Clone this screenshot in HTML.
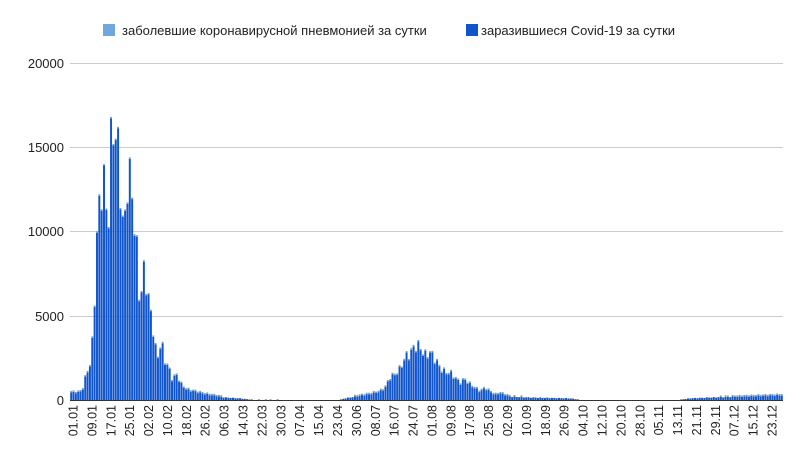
<!DOCTYPE html>
<html><head><meta charset="utf-8"><style>
html,body{margin:0;padding:0;background:#fff;}
svg{display:block;font-family:"Liberation Sans",Arial,sans-serif;}
</style></head><body>
<svg id="c" width="807" height="466" xmlns="http://www.w3.org/2000/svg">
<rect width="807" height="466" fill="#fff"/>
<g stroke="#cccccc" stroke-width="1">
<line x1="70" y1="63.5" x2="783" y2="63.5"/>
<line x1="70" y1="147.5" x2="783" y2="147.5"/>
<line x1="70" y1="231.5" x2="783" y2="231.5"/>
<line x1="70" y1="316.5" x2="783" y2="316.5"/>
</g>
<g font-size="13" fill="#222" text-anchor="end">
<text x="64" y="68">20000</text>
<text x="64" y="152">15000</text>
<text x="64" y="236">10000</text>
<text x="64" y="321">5000</text>
<text x="64" y="405">0</text>
</g>
<rect x="103" y="24" width="12" height="12" fill="#6fa8dc"/>
<text x="122" y="35" font-size="13" fill="#222">заболевшие коронавирусной пневмонией за сутки</text>
<rect x="466" y="24" width="12" height="12" fill="#1155cc"/>
<text x="481" y="35" font-size="13" fill="#222">заразившиеся Covid-19 за сутки</text>
<g id="bars"></g>
<line x1="70" y1="400.5" x2="783" y2="400.5" stroke="#333" stroke-width="1"/>
<g id="lbl" font-size="12.5" fill="#222"></g>
</svg>
<script>
var kp=[[70,450],[80,450],[83,700],[85,1200],[87,1600],[89,2000],[91,2200],[94,4800],[96,9100],[98,10400],[101,12400],[103,13500],[106,11500],[108,9800],[110,13900],[112,15900],[115,16400],[117,15200],[119,14000],[122,11300],[124,9100],[126,11800],[128,13700],[131,12600],[133,11700],[136,9500],[138,7500],[140,5600],[143,7300],[145,7700],[147,6600],[150,5300],[152,4800],[155,3400],[157,2000],[159,3200],[162,3300],[164,2400],[166,2200],[169,1900],[171,1300],[173,1200],[176,1500],[178,1400],[180,1000],[183,800],[185,700],[187,600],[195,500],[205,350],[215,250],[225,150],[240,100],[250,30],[340,20],[345,100],[360,250],[370,350],[380,500],[385,700],[390,1300],[395,1500],[400,1800],[405,2500],[410,2700],[415,3200],[420,3100],[425,2600],[430,2800],[435,2400],[440,1900],[445,1600],[450,1600],[455,1300],[460,1000],[465,1200],[470,900],[475,700],[480,500],[485,700],[490,500],[495,300],[500,400],[505,300],[510,200],[530,150],[570,100],[580,20],[680,20],[690,100],[710,150],[740,200],[783,280]];
function val(x){for(var i=0;i<kp.length-1;i++){if(x>=kp[i][0]&&x<=kp[i+1][0]){var t=(x-kp[i][0])/(kp[i+1][0]-kp[i][0]);return kp[i][1]+t*(kp[i+1][1]-kp[i][1]);}}return 0;}
var n=304,w=713/n,g='',s=337/20000;
for(var i=0;i<n;i++){var cx=70+w*(i+0.5);var v=val(cx);var j=1+0.12*Math.sin(i*2.3);v*=j;var h=v*s;if(h<0.5)continue;var x=(cx-w*0.42).toFixed(2),bw=(w*0.84).toFixed(2);
g+='<rect x="'+x+'" y="'+(400-h).toFixed(2)+'" width="'+bw+'" height="'+h.toFixed(2)+'" fill="#1155cc"/>';
if(h>3)g+='<rect x="'+x+'" y="'+(400-h-1.5).toFixed(2)+'" width="'+bw+'" height="1.5" fill="#6fa8dc"/>';}
document.getElementById('bars').innerHTML=g;
var L=["01.01","09.01","17.01","25.01","02.02","10.02","18.02","26.02","06.03","14.03","22.03","30.03","07.04","15.04","23.04","30.06","08.07","16.07","24.07","01.08","09.08","17.08","25.08","02.09","10.09","18.09","26.09","04.10","12.10","20.10","28.10","05.11","13.11","21.11","29.11","07.12","15.12","23.12"];
var t='';for(var k=0;k<L.length;k++){var x=73+k*(772-73)/37;t+='<text transform="translate('+(x+4.5).toFixed(1)+',405) rotate(-90)" text-anchor="end">'+L[k]+'</text>';}
document.getElementById('lbl').innerHTML=t;
</script>
</body></html>
